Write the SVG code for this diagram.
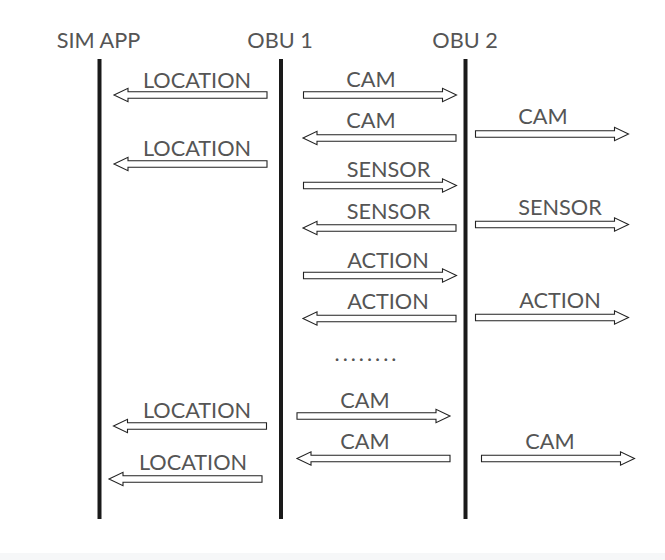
<svg xmlns="http://www.w3.org/2000/svg" width="665" height="560" viewBox="0 0 665 560">
<style>
.lbl{font-family:Lato,"Open Sans","Liberation Sans",sans-serif;font-size:21.7px;fill:#555;text-anchor:middle}
.life{stroke:#1a1a1a;stroke-width:4}
.arr{fill:#fff;stroke:#222;stroke-width:1.1;stroke-linejoin:miter}
</style>
<defs>
<path id="ar" d="M0,-3.2 H139 V-6.7 L153,0 L139,6.7 V3.2 H0 Z"/>
</defs>
<rect x="0" y="0" width="665" height="560" fill="#fff"/>
<rect x="0" y="553" width="665" height="7" fill="#f6f7f8"/>
<g id="simapp"><text class="lbl" x="98.5" y="48">SIM APP</text><line class="life" x1="99.5" y1="59" x2="99.5" y2="519"/></g>
<g id="obu1"><text class="lbl" x="280" y="48">OBU 1</text><line class="life" x1="281" y1="59" x2="281" y2="519"/></g>
<g id="obu2"><text class="lbl" x="465" y="48">OBU 2</text><line class="life" x1="465.5" y1="59" x2="465.5" y2="519"/></g>
<g id="connectors">
<use href="#ar" class="arr" transform="translate(267,95) scale(-1,1)"/><text class="lbl" x="197" y="87.5">LOCATION</text>
<use href="#ar" class="arr" transform="translate(303.5,95)"/><text class="lbl" x="371" y="86.5">CAM</text>
<use href="#ar" class="arr" transform="translate(456,138) scale(-1,1)"/><text class="lbl" x="371" y="127.5">CAM</text>
<use href="#ar" class="arr" transform="translate(475.5,134)"/><text class="lbl" x="543" y="123.5">CAM</text>
<use href="#ar" class="arr" transform="translate(267,164) scale(-1,1)"/><text class="lbl" x="197" y="156">LOCATION</text>
<use href="#ar" class="arr" transform="translate(303.5,185.5)"/><text class="lbl" x="388.5" y="176.5">SENSOR</text>
<use href="#ar" class="arr" transform="translate(456,228) scale(-1,1)"/><text class="lbl" x="388.5" y="218.5">SENSOR</text>
<use href="#ar" class="arr" transform="translate(475.5,224.5)"/><text class="lbl" x="560" y="214.5">SENSOR</text>
<use href="#ar" class="arr" transform="translate(303.5,275.5)"/><text class="lbl" x="388" y="267.5">ACTION</text>
<use href="#ar" class="arr" transform="translate(456,318.5) scale(-1,1)"/><text class="lbl" x="388" y="308.5">ACTION</text>
<use href="#ar" class="arr" transform="translate(475.5,317.5)"/><text class="lbl" x="560" y="307.5">ACTION</text>
<text class="lbl" x="367" y="361" letter-spacing="3">........</text>
<use href="#ar" class="arr" transform="translate(266.5,426) scale(-1,1)"/><text class="lbl" x="197" y="417.5">LOCATION</text>
<use href="#ar" class="arr" transform="translate(297,416)"/><text class="lbl" x="365" y="407.5">CAM</text>
<use href="#ar" class="arr" transform="translate(450,458.5) scale(-1,1)"/><text class="lbl" x="365" y="448.5">CAM</text>
<use href="#ar" class="arr" transform="translate(481.5,458.5)"/><text class="lbl" x="550" y="448.5">CAM</text>
<use href="#ar" class="arr" transform="translate(262,479) scale(-1,1)"/><text class="lbl" x="193" y="470">LOCATION</text>
</g>
</svg>
